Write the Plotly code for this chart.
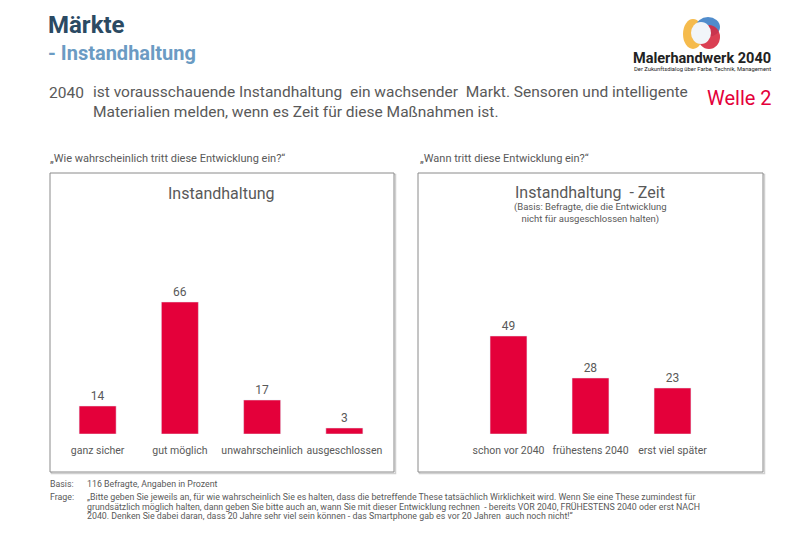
import plotly.graph_objects as go

# data
cats_left = ["ganz sicher", "gut möglich", "unwahrscheinlich", "ausgeschlossen"]
vals_left = [14, 66, 17, 3]
cats_right = ["schon vor 2040", "frühestens 2040", "erst viel später"]
vals_right = [49, 28, 23]

RED = "#e4003a"
GREY = "#595959"
FONT = "Roboto, Liberation Sans, sans-serif"
W, H = 800, 554


def px(x):
    return x / W


def py(y):
    return 1 - y / H


fig = go.Figure()
fig.add_trace(go.Bar(x=cats_left, y=vals_left, marker_color=RED, width=0.45,
                     text=vals_left, textposition="outside", cliponaxis=False,
                     textfont=dict(size=12, color=GREY), xaxis="x", yaxis="y"))
fig.add_trace(go.Bar(x=cats_right, y=vals_right, marker_color=RED, width=0.45,
                     text=vals_right, textposition="outside", cliponaxis=False,
                     textfont=dict(size=12, color=GREY), xaxis="x2", yaxis="y2"))

ydom = [py(434), py(234)]
axis_common = dict(showgrid=False, zeroline=False, showline=False, ticks="outside",
                   ticklen=6, tickcolor="rgba(0,0,0,0)",
                   tickfont=dict(size=10.5, color=GREY),
                   fixedrange=True)
fig.update_layout(
    width=W, height=H, margin=dict(l=0, r=0, t=0, b=0),
    paper_bgcolor="white", plot_bgcolor="rgba(0,0,0,0)",
    showlegend=False, font=dict(family=FONT, color=GREY),
    xaxis=dict(domain=[px(56.5), px(385.5)], range=[-0.5, 3.5], anchor="y", **axis_common),
    yaxis=dict(domain=ydom, range=[0, 100], visible=False, anchor="x"),
    xaxis2=dict(domain=[px(467.5), px(713.5)], range=[-0.5, 2.5], anchor="y2", **axis_common),
    yaxis2=dict(domain=ydom, range=[0, 100], visible=False, anchor="x2"),
)

# panel frames with a light shadow
for x0, x1 in [(50, 394), (418, 763)]:
    fig.add_shape(type="rect", xref="paper", yref="paper",
                  x0=px(x0 + 1.5), x1=px(x1 + 1.5), y0=py(473.5), y1=py(174.5),
                  line=dict(color="#d0d0d0", width=1.5), layer="below")
    fig.add_shape(type="rect", xref="paper", yref="paper",
                  x0=px(x0), x1=px(x1), y0=py(472), y1=py(173),
                  line=dict(color="#8a8a8a", width=1), fillcolor="white", layer="below")

ann = []


def text(x, y, s, size, color=GREY, xanchor="left", align="left", yanchor="middle"):
    ann.append(dict(x=px(x), y=py(y), xref="paper", yref="paper", text=s, showarrow=False,
                    xanchor=xanchor, yanchor=yanchor, align=align,
                    font=dict(size=size, color=color, family=FONT)))


# header
text(46, 25, "<b>Märkte</b>", 24, "#2b4a63")
text(46, 53, "<b>- Instandhaltung</b>", 20, "#6b9bc3")
text(47, 93, "2040", 15.5)
text(91, 102, "ist vorausschauende Instandhaltung  ein wachsender  Markt. Sensoren und intelligente<br>"
     "Materialien melden, wenn es Zeit für diese Maßnahmen ist.", 15.5)
text(739, 98, "Welle 2", 20, RED, xanchor="center")

# logo
text(702, 58, "<b>Malerhandwerk 2040</b>", 14.5, "#222222", xanchor="center")
text(702, 69, "Der Zukunftsdialog über Farbe, Technik, Management", 5.8, "#222222", xanchor="center")
for cx, cy, rx, ry, col in [(693, 34, 10, 15, "#f4b43a"), (708, 27, 12, 10, "#3d7fc6"),
                            (709, 37, 11, 12, "#d62a40")]:
    fig.add_shape(type="circle", xref="paper", yref="paper",
                  x0=px(cx - rx), x1=px(cx + rx), y0=py(cy + ry), y1=py(cy - ry),
                  line=dict(width=0), fillcolor=col, opacity=0.9)
fig.add_shape(type="circle", xref="paper", yref="paper",
              x0=px(691), x1=px(711), y0=py(44), y1=py(22),
              line=dict(width=0), fillcolor="#f1f5f9")

# question labels
text(48, 158, "„Wie wahrscheinlich tritt diese Entwicklung ein?“", 11)
text(418, 158, "„Wann tritt diese Entwicklung ein?“", 11)

# panel titles
text(221, 193, "Instandhaltung", 16, xanchor="center", align="center")
text(590, 192, "Instandhaltung  - Zeit", 16, xanchor="center", align="center")
text(590, 213, "(Basis: Befragte, die die Entwicklung<br>nicht für ausgeschlossen halten)", 9.5,
     xanchor="center", align="center")

# footer
frage_lines = [
    "„Bitte geben Sie jeweils an, für wie wahrscheinlich Sie es halten, dass die betreffende These tatsächlich Wirklichkeit wird. Wenn Sie eine These zumindest für",
    "grundsätzlich möglich halten, dann geben Sie bitte auch an, wann Sie mit dieser Entwicklung rechnen  - bereits VOR 2040, FRÜHESTENS 2040 oder erst NACH",
    "2040. Denken Sie dabei daran, dass 20 Jahre sehr viel sein können - das Smartphone gab es vor 20 Jahren  auch noch nicht!“",
]
text(48, 484, "Basis:", 8.8)
text(85, 484, "116 Befragte, Angaben in Prozent", 8.8)
text(48, 497, "Frage:", 8.8)
for i, line in enumerate(frage_lines):
    text(85, 497 + 9.5 * i, line, 8.8)

fig.update_layout(annotations=ann)
# page margin off so the figure sits at the window corner
fig.write_html("out.html", config={"displayModeBar": False},
               post_script="document.body.style.margin='0';")
